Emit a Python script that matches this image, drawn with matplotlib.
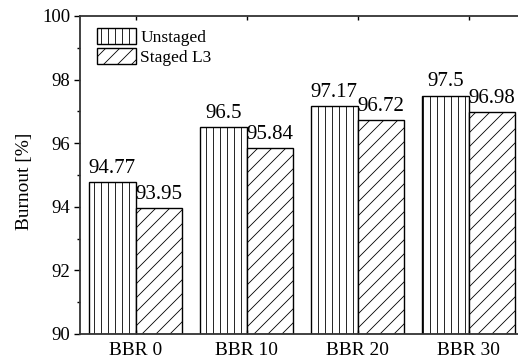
import numpy as np
import matplotlib
matplotlib.use('Agg')
import matplotlib.pyplot as plt

# saved at 84 dpi so the hatch lines come out wider apart; sizes below are
# given for 100 dpi and scaled by s
dpi = 84
s = 100 / dpi

plt.rcParams['font.family'] = ['Liberation Serif', 'DejaVu Serif']
plt.rcParams['font.size'] = 13.5 * s
plt.rcParams['hatch.linewidth'] = 0.6 * s

categories = ['BBR 0', 'BBR 10', 'BBR 20', 'BBR 30']
unstaged = [94.77, 96.5, 97.17, 97.5]
staged = [93.95, 95.84, 96.72, 96.98]

fig = plt.figure(figsize=(518 / dpi, 359 / dpi), dpi=dpi)
ax = fig.add_axes([80/518, 25/359, 444/518, 318/359])

x = np.arange(len(categories))
w = 0.42
ax.bar(x - w/2, np.array(unstaged) - 90, w, bottom=90, color='white',
       edgecolor='black', linewidth=1.0 * s, hatch='||', label='Unstaged')
ax.bar(x + w/2, np.array(staged) - 90, w, bottom=90, color='white',
       edgecolor='black', linewidth=1.0 * s, hatch='//', label='Staged L3')

for xi, v in zip(x, unstaged):
    ax.text(xi - w/2, v + 0.14, str(v), ha='center', va='bottom', fontsize=15 * s)
for xi, v in zip(x, staged):
    ax.text(xi + w/2, v + 0.14, str(v), ha='center', va='bottom', fontsize=15 * s)

ax.set_xlim(-0.5, 3.5)
ax.set_ylim(90, 100)
ax.set_xticks(x)
ax.set_xticklabels(categories, fontsize=14 * s)
ax.set_yticks(np.arange(90, 101, 2))
ax.set_yticks(np.arange(91, 100, 2), minor=True)
ax.tick_params(axis='y', which='major', direction='out', length=4 * s,
               width=1 * s, pad=3 * s)
ax.tick_params(axis='y', which='minor', direction='out', length=2.5 * s, width=1 * s)
ax.tick_params(axis='x', which='major', direction='in', length=3 * s, width=1 * s,
               top=True, pad=5.5 * s)
ax.set_ylabel('Burnout [%]', fontsize=14 * s)
ax.yaxis.set_label_coords(-0.106, 0.48)
for sp in ax.spines.values():
    sp.set_linewidth(1.3 * s)
    sp.set_color('#333333')

ax.legend(loc='upper left', bbox_to_anchor=(0.038, 0.962), frameon=False,
          fontsize=12.5 * s, handlelength=2.25, handleheight=1.05, labelspacing=0.12,
          handletextpad=0.25, borderpad=0, borderaxespad=0)

fig.savefig('out.png', dpi=dpi)
